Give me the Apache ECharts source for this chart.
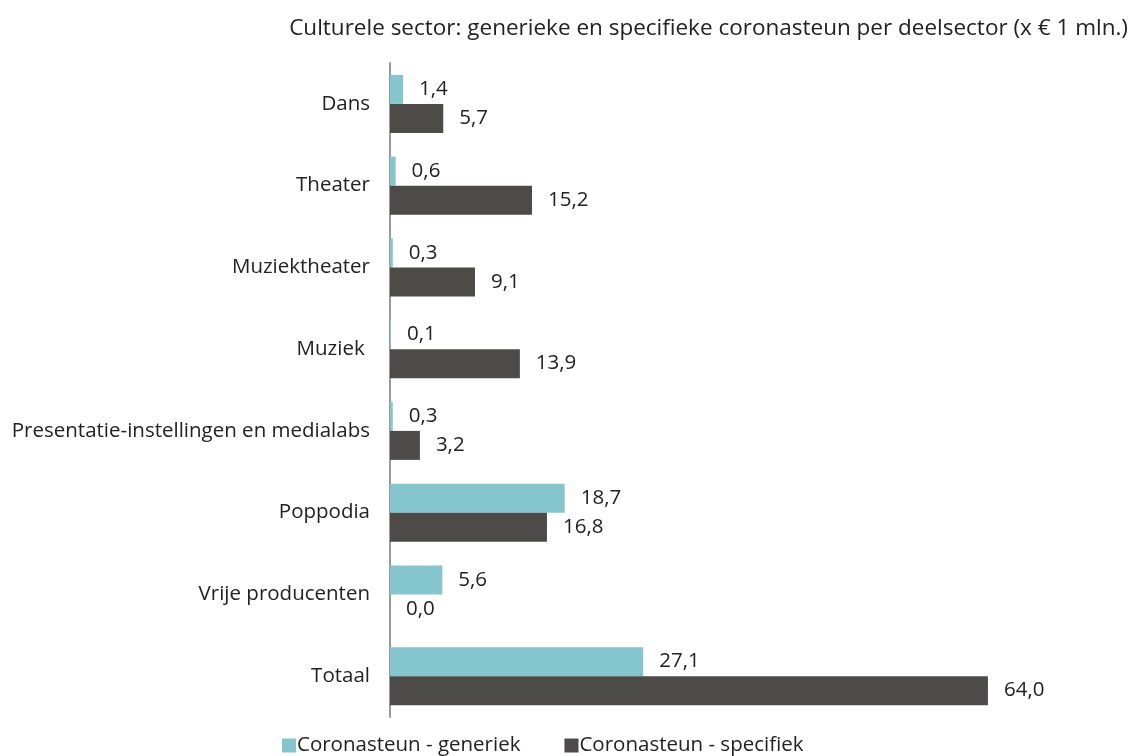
<!DOCTYPE html>
<html>
<head>
<meta charset="utf-8">
<script src="https://cdn.jsdelivr.net/npm/echarts@6/dist/echarts.min.js"></script>
<style>
  html, body { margin: 0; padding: 0; background: #fff; }
  #chart { width: 1131px; height: 756px; }
</style>
</head>
<body>
<div id="chart"></div>
<script>
// deelsectoren, van boven naar beneden
var categories = ['Dans', 'Theater', 'Muziektheater', 'Muziek ', 'Presentatie-instellingen en medialabs', 'Poppodia', 'Vrije producenten', 'Totaal'];
var generiek = [1.4, 0.6, 0.3, 0.1, 0.3, 18.7, 5.6, 27.1];
var specifiek = [5.7, 15.2, 9.1, 13.9, 3.2, 16.8, 0.0, 64.0];
var seriesNames = ['Coronasteun - generiek', 'Coronasteun - specifiek'];

var font = '"Open Sans", sans-serif';
var fs = 20.5;

var labelStyle = {
    show: true,
    position: 'right',
    distance: 16,
    fontSize: fs,
    fontFamily: font,
    color: '#222',
    formatter: function(p) {
        return p.value.toFixed(1).replace('.', ',');
    }
};

var chart = echarts.init(document.getElementById('chart'));
chart.setOption({
    animation: false,
    title: {
        text: 'Culturele sector: generieke en specifieke coronasteun per deelsector (x € 1 mln.)',
        right: -2,
        top: 12,
        textStyle: { fontSize: 22.5, fontWeight: 'normal', color: '#222', fontFamily: font }
    },
    legend: {
        bottom: -5,
        left: 277,
        itemWidth: 14,
        itemHeight: 14,
        itemGap: 44,
        icon: 'rect',
        textStyle: { fontSize: fs, color: '#222', fontFamily: font, padding: [0, 0, 0, -4] },
        data: seriesNames
    },
    grid: { left: 390, top: 63, width: 654, height: 654 },
    xAxis: {
        type: 'value',
        min: 0,
        max: 70,
        show: false
    },
    yAxis: {
        type: 'category',
        inverse: true,
        data: categories,
        axisLine: { show: true, lineStyle: { color: '#999', width: 2 } },
        axisTick: { show: false },
        axisLabel: { fontSize: fs, color: '#222', fontFamily: font, margin: 20 }
    },
    series: [
        {
            name: seriesNames[0],
            type: 'bar',
            data: generiek,
            barWidth: 29,
            barGap: '0%',
            itemStyle: { color: '#84C5CE' },
            label: labelStyle
        },
        {
            name: seriesNames[1],
            type: 'bar',
            data: specifiek,
            barWidth: 29,
            barGap: '0%',
            itemStyle: { color: '#4D4B47' },
            label: labelStyle
        }
    ]
});
</script>
</body>
</html>
